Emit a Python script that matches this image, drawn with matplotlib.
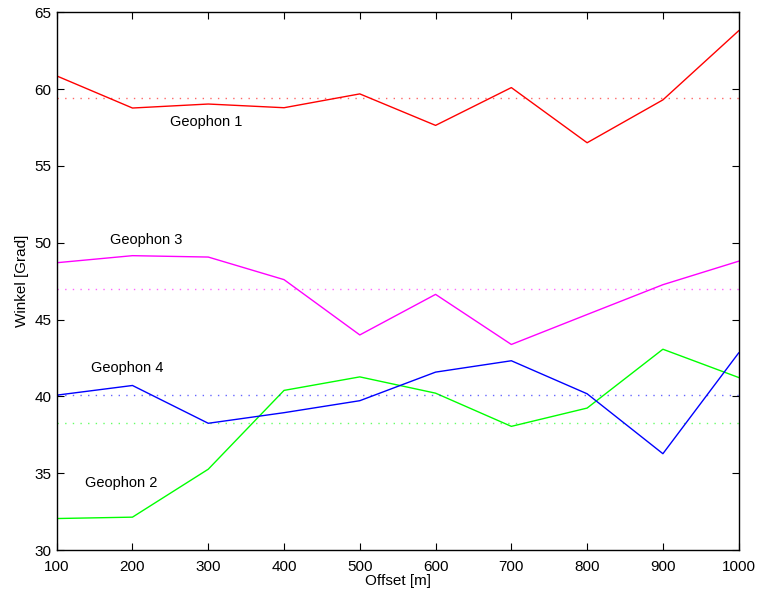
import matplotlib
matplotlib.use("Agg")
import matplotlib.pyplot as plt
import numpy as np

plt.rcParams['font.family'] = ['Liberation Sans', 'DejaVu Sans']

offset = [100, 200, 300, 400, 500, 600, 700, 800, 900, 1000]
geophon1 = [60.86, 58.77, 59.03, 58.79, 59.69, 57.64, 60.10, 56.51, 59.30, 63.80]
geophon2 = [32.05, 32.14, 35.26, 40.39, 41.27, 40.21, 38.05, 39.24, 43.07, 41.23]
geophon3 = [48.70, 49.16, 49.07, 47.60, 44.00, 46.64, 43.38, 45.33, 47.27, 48.80]
geophon4 = [40.08, 40.71, 38.25, 38.94, 39.72, 41.58, 42.32, 40.17, 36.27, 42.83]

series = [geophon1, geophon2, geophon3, geophon4]
colors = ['#ff0000', '#00ff00', '#ff00ff', '#0000ff']
labels = ['Geophon 1', 'Geophon 2', 'Geophon 3', 'Geophon 4']
label_pos = [(250, 57.83), (138, 34.35), (171, 50.15), (145, 41.88)]

xticks = [100, 200, 300, 400, 500, 600, 700, 800, 900, 1000]
yticks = [30, 35, 40, 45, 50, 55, 60, 65]

fig = plt.figure(figsize=(7.58, 5.92), dpi=100)
ax = fig.add_axes([0.0748, 0.0709, 0.8997, 0.9083])

for vals, c in zip(series, colors):
    ax.plot(offset, vals, color=c, lw=1.0)
    m = np.mean(vals)
    ax.plot([offset[0], offset[-1]], [m, m], color=c, lw=1.0, alpha=0.6,
            linestyle=(0, (1, 4.5)))

for lab, (x, y) in zip(labels, label_pos):
    ax.text(x, y, lab, fontsize=10.5, ha='left', va='center', color='black')

ax.set_xlim(100, 1000)
ax.set_ylim(30, 65)
ax.set_xticks(xticks)
ax.set_yticks(yticks)
ax.tick_params(direction='in', length=5, width=0.8, labelsize=11,
               top=True, right=True)
ax.tick_params(axis='x', pad=7)
ax.tick_params(axis='y', pad=4)
for s in ax.spines.values():
    s.set_linewidth(1.0)
ax.set_xlabel('Offset [m]', fontsize=11, labelpad=0)
ax.set_ylabel('Winkel [Grad]', fontsize=11, labelpad=4)

fig.savefig('out.png', dpi=100)
